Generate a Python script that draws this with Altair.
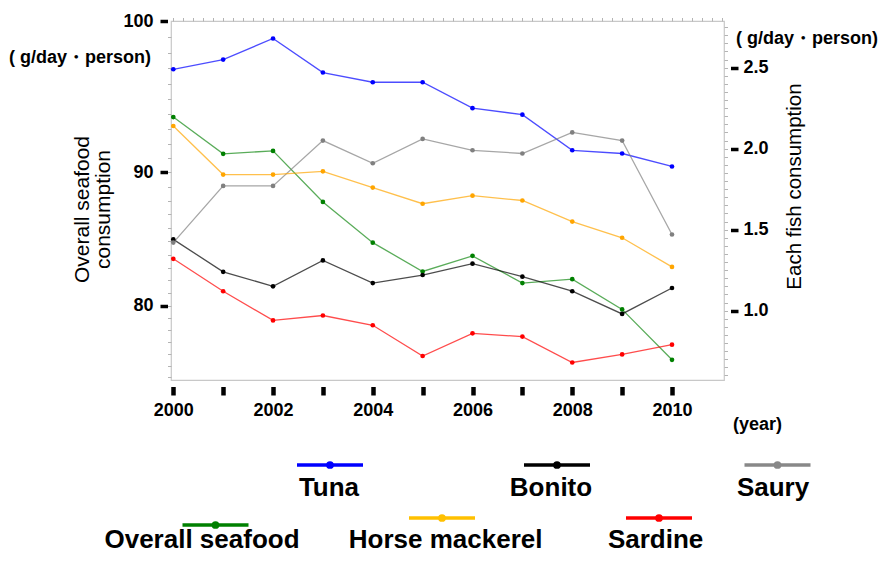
import altair as alt
import pandas as pd

# ---------------- data ----------------
years = list(range(2000, 2011))
overall_seafood = [93.8, 91.3, 91.5, 87.9, 84.9, 82.7, 83.9, 81.8, 82.1, 79.7, 75.5]
tuna = [2.49, 2.55, 2.68, 2.47, 2.41, 2.41, 2.25, 2.21, 1.99, 1.97, 1.89]
bonito = [1.44, 1.24, 1.15, 1.31, 1.17, 1.22, 1.29, 1.21, 1.12, 0.98, 1.14]
saury = [1.42, 1.77, 1.77, 2.05, 1.91, 2.06, 1.99, 1.97, 2.10, 2.05, 1.47]
horse_mackerel = [2.14, 1.84, 1.84, 1.86, 1.76, 1.66, 1.71, 1.68, 1.55, 1.45, 1.27]
sardine = [1.32, 1.12, 0.94, 0.97, 0.91, 0.72, 0.86, 0.84, 0.68, 0.73, 0.79]

fish_names = ["Tuna", "Bonito", "Saury", "Horse mackerel", "Sardine"]
fish_series = [tuna, bonito, saury, horse_mackerel, sardine]
fish_colors = ["#0000ff", "#000000", "#808080", "#ffa500", "#ff0000"]
overall_name = "Overall seafood"
overall_color = "#008000"

left_ticks = [80, 90, 100]
right_ticks = [1.0, 1.5, 2.0, 2.5]
unit_label = "( g/day・person)"

# legend order / colours as in the reference
legend_names = ["Tuna", "Bonito", "Saury", "Overall seafood", "Horse mackerel", "Sardine"]
legend_colors = ["#0000ff", "#000000", "#888888", "#008000", "#ffc000", "#ff0000"]

# ---------------- tables ----------------
fish_df = pd.DataFrame(
    [{"year": y, "series": n, "value": v}
     for n, s in zip(fish_names, fish_series) for y, v in zip(years, s)]
)
overall_df = pd.DataFrame({"year": years, "value": overall_seafood})
one = pd.DataFrame({"k": [0]})

# ---------------- layout ----------------
W, H = 553, 359
FONT = "Liberation Sans"

x_scale = alt.Scale(domain=[1999.954, 2011.043], nice=False, zero=False)
left_scale = alt.Scale(type="pow", exponent=2.15, domain=[73.74, 100], nice=False, zero=False)
right_scale = alt.Scale(domain=[0.572, 2.788], nice=False, zero=False)

x_major = alt.Axis(
    values=years, format="d",
    labelExpr="datum.value % 2 == 0 ? datum.label : ''",
    domain=False, grid=False, offset=6.5,
    tickColor="black", tickSize=8.5, tickWidth=4.5,
    labelFont=FONT, labelFontSize=18, labelFontWeight="bold", labelColor="black",
    labelPadding=6, labelFlush=False, labelOverlap=False,
    title="(year)", titleFont=FONT, titleFontSize=18, titleFontWeight="bold",
    titleColor="black", titleX=586, titleY=38, titleAlign="center", titleBaseline="middle",
)
x_minor = alt.Axis(
    values=[round(2000 + 0.2 * i, 1) for i in range(56)],
    domain=False, grid=False, labels=False, offset=0,
    tickColor="#b4b4b4", tickSize=3.5, tickWidth=1, title=None,
)
y_left_major = alt.Axis(
    orient="left", values=left_ticks, format="d",
    domain=False, grid=False, offset=3.5,
    tickColor="black", tickSize=7.5, tickWidth=3.5,
    labelFont=FONT, labelFontSize=18, labelFontWeight="bold", labelColor="black",
    labelPadding=7, labelOverlap=False, labelFlush=False,
    title=["Overall  seafood", "consumption"], titleFont=FONT, titleFontSize=21,
    titleFontWeight="normal", titleColor="black", titleAngle=270,
    titleX=-79, titleY=188, titleAlign="center", titleBaseline="alphabetic",
    titleLineHeight=21,
)
y_left_minor = alt.Axis(
    orient="left", values=list(range(74, 100)),
    domain=False, grid=False, labels=False, offset=0,
    tickColor="#b4b4b4", tickSize=3.5, tickWidth=1, title=None,
)
y_right_major = alt.Axis(
    orient="right", values=right_ticks, format=".1f",
    domain=False, grid=False, offset=6.5,
    tickColor="black", tickSize=7.5, tickWidth=3.5,
    labelFont=FONT, labelFontSize=18, labelFontWeight="bold", labelColor="black",
    labelPadding=5, labelOverlap=False, labelFlush=False,
    title="Each fish consumption", titleFont=FONT, titleFontSize=20.5,
    titleFontWeight="normal", titleColor="black", titleAngle=270,
    titleX=70, titleY=165, titleAlign="center", titleBaseline="alphabetic",
)
y_right_minor = alt.Axis(
    orient="right", values=[round(0.6 + 0.05 * i, 2) for i in range(44)],
    domain=False, grid=False, labels=False, offset=0,
    tickColor="#b4b4b4", tickSize=3.5, tickWidth=1, title=None,
)

fish_color = alt.Color("series:N", scale=alt.Scale(domain=fish_names, range=fish_colors), legend=None)

overall_line = alt.Chart(overall_df).mark_line(strokeWidth=1.3, opacity=0.65, color=overall_color).encode(
    x=alt.X("year:Q", scale=x_scale, axis=x_major),
    y=alt.Y("value:Q", scale=left_scale, axis=y_left_major),
)
overall_pts = alt.Chart(overall_df).mark_point(filled=True, size=22, opacity=1, color=overall_color).encode(
    x=alt.X("year:Q", scale=x_scale, axis=x_minor),
    y=alt.Y("value:Q", scale=left_scale, axis=y_left_minor),
)
fish_lines = alt.Chart(fish_df).mark_line(strokeWidth=1.3, opacity=0.7).encode(
    x=alt.X("year:Q", scale=x_scale, axis=None),
    y=alt.Y("value:Q", scale=right_scale, axis=y_right_major),
    color=fish_color,
    detail="series:N",
)
fish_pts = alt.Chart(fish_df).mark_point(filled=True, size=22, opacity=1).encode(
    x=alt.X("year:Q", scale=x_scale, axis=None),
    y=alt.Y("value:Q", scale=right_scale, axis=y_right_minor),
    color=fish_color,
)

# unit labels
unit_left = alt.Chart(one).mark_text(font=FONT, fontSize=18, fontWeight="bold", color="black",
                                     align="center", baseline="middle").encode(
    x=alt.value(-91), y=alt.value(37), text=alt.value(unit_label))
unit_right = alt.Chart(one).mark_text(font=FONT, fontSize=18, fontWeight="bold", color="black",
                                      align="center", baseline="middle").encode(
    x=alt.value(636), y=alt.value(18), text=alt.value(unit_label))

# manual two-row legend (symbol above label)
legend_line_cx = [159, 386, 606.5, 44.5, 271, 488]
legend_text_cx = [158, 380, 602, 31, 274.6, 484.6]
legend_line_y = [444, 444, 444, 504, 497, 497]
legend_text_y = [475, 475, 475, 527, 527, 527]
legend_layers = []
for name, col, lcx, tcx, ly, ty in zip(legend_names, legend_colors, legend_line_cx,
                                        legend_text_cx, legend_line_y, legend_text_y):
    legend_layers.append(
        alt.Chart(one).mark_rule(strokeWidth=3.5, color=col).encode(
            x=alt.value(lcx - 33), x2=alt.value(lcx + 33), y=alt.value(ly))
    )
    legend_layers.append(
        alt.Chart(one).mark_point(filled=True, size=60, opacity=1, color=col).encode(
            x=alt.value(lcx), y=alt.value(ly))
    )
    legend_layers.append(
        alt.Chart(one).mark_text(font=FONT, fontSize=26, fontWeight="bold", color="black",
                                 align="center", baseline="alphabetic").encode(
            x=alt.value(tcx), y=alt.value(ty), text=alt.value(name))
    )

chart = alt.layer(
    overall_line, overall_pts, fish_lines, fish_pts, unit_left, unit_right, *legend_layers
).resolve_scale(
    y="independent", color="independent"
).resolve_axis(
    x="independent", y="independent"
).properties(
    width=W, height=H,
    padding={"left": 163, "top": 13, "right": 155, "bottom": 174},
    autosize=alt.AutoSizeParams(type="none"),
).configure_view(
    stroke="#c8c8c8", strokeWidth=1.2
).configure_axis(
    grid=False
)

chart.save("out.html", embed_options={"renderer": "svg", "actions": False})
